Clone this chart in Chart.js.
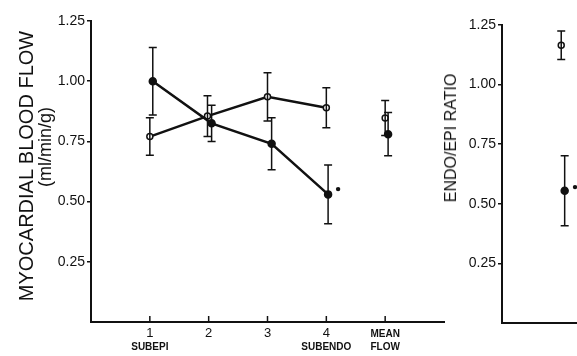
<!DOCTYPE html>
<html lang="en">
<head>
    <meta charset="UTF-8">
    <title>Myocardial Blood Flow and Endo/Epi Ratio</title>
    <script src="https://cdn.jsdelivr.net/npm/chart.js"></script>
    <style>
        body {
            margin: 0;
            width: 577px;
            height: 356px;
            overflow: hidden;
            background: #fff;
            position: relative;
            font-family: "Liberation Sans", Arial, sans-serif;
            color: #111;
        }
        #flowBox { position: absolute; left: 0; top: 0; width: 460px; height: 356px; }
        #ratioBox { position: absolute; left: 440px; top: 0; width: 240px; height: 356px; }
        .vtitle {
            position: absolute;
            white-space: nowrap;
            transform: translate(-50%, -50%) rotate(-90deg);
            line-height: 1;
        }
    </style>
</head>
<body>
    <div id="flowBox"><canvas id="flowChart" width="460" height="356"></canvas></div>
    <div id="ratioBox"><canvas id="ratioChart" width="240" height="356"></canvas></div>

    <div class="vtitle" style="left:26px; top:166px; font-size:20px;">MYOCARDIAL BLOOD FLOW</div>
    <div class="vtitle" style="left:45px; top:147px; font-size:18px;">(ml/min/g)</div>
    <div class="vtitle" style="left:451px; top:138px; font-size:16px;">ENDO/EPI RATIO</div>

    <script>
        // Tick labels
        const yTicks = [0.25, 0.50, 0.75, 1.00, 1.25];
        const xTicks = [1, 2, 3, 4, 5];
        const xTickLabels = ['1', '2', '3', '4', ''];
        const xSubLabels = [['SUBEPI'], [], [], ['SUBENDO'], ['MEAN', 'FLOW']];

        // Left panel: open circles (control) and filled circles
        const openX = [1, 1.98, 3, 4];
        const openFlow = [0.77, 0.855, 0.935, 0.89];
        const openFlowErr = [0.078, 0.085, 0.10, 0.083];
        const filledX = [1.05, 2.05, 3.07, 4.03];
        const filledFlow = [1.00, 0.825, 0.74, 0.53];
        const filledFlowErr = [0.14, 0.075, 0.108, 0.122];

        // Mean flow
        const openMeanX = [5];
        const openMean = [0.847];
        const openMeanErr = [0.073];
        const filledMeanX = [5.05];
        const filledMean = [0.78];
        const filledMeanErr = [0.09];

        // Significance marks (•)
        const sigFlowX = [4.2];
        const sigFlow = [0.552];

        // Right panel: endo/epi ratio
        const openRatioX = [1.03];
        const openRatio = [1.165];
        const openRatioErr = [0.06];
        const filledRatioX = [1.09];
        const filledRatio = [0.555];
        const filledRatioErr = [0.147];
        const sigRatioX = [1.27];
        const sigRatio = [0.57];

        const INK = '#111';

        function pts(xs, ys) {
            return xs.map((x, i) => ({ x: x, y: ys[i] }));
        }

        // Draws error bars and the small decorations of the axes
        const errorBars = {
            id: 'errorBars',
            afterDatasetsDraw(chart) {
                const ctx = chart.ctx;
                const yScale = chart.scales.y;
                ctx.save();
                ctx.strokeStyle = INK;
                ctx.lineWidth = 1.5;
                chart.data.datasets.forEach((ds, i) => {
                    if (!ds.errors) return;
                    const meta = chart.getDatasetMeta(i);
                    meta.data.forEach((pt, j) => {
                        const v = ds.data[j].y;
                        const e = ds.errors[j];
                        const top = yScale.getPixelForValue(v + e);
                        const bot = yScale.getPixelForValue(v - e);
                        ctx.beginPath();
                        ctx.moveTo(pt.x, top);
                        ctx.lineTo(pt.x, bot);
                        ctx.moveTo(pt.x - 4, top);
                        ctx.lineTo(pt.x + 4, top);
                        ctx.moveTo(pt.x - 4, bot);
                        ctx.lineTo(pt.x + 4, bot);
                        ctx.stroke();
                    });
                });
                ctx.restore();
            }
        };

        const xDecor = {
            id: 'xDecor',
            afterDraw(chart) {
                const ctx = chart.ctx;
                const xScale = chart.scales.x;
                const base = chart.chartArea.bottom;
                ctx.save();
                ctx.strokeStyle = INK;
                ctx.fillStyle = INK;
                ctx.lineWidth = 1.5;
                ctx.textAlign = 'center';
                ctx.textBaseline = 'middle';
                ctx.font = 'bold 10px "Liberation Sans Narrow", "Liberation Sans", sans-serif';
                xTicks.forEach((t, i) => {
                    const px = xScale.getPixelForValue(t);
                    ctx.beginPath();
                    ctx.moveTo(px, base);
                    ctx.lineTo(px, base - 6);
                    ctx.stroke();
                    xSubLabels[i].forEach((s, k) => {
                        const row = xSubLabels[i].length === 2 ? k : 1;
                        ctx.fillText(s, px, base + 12 + row * 13);
                    });
                });
                ctx.restore();
            }
        };

        function yAxis(width) {
            return {
                min: 0,
                max: 1.25,
                afterBuildTicks: s => { s.ticks = yTicks.map(v => ({ value: v })); },
                afterFit: s => { s.width = width; },
                ticks: {
                    color: INK,
                    padding: 2,
                    font: { family: '"Liberation Sans", Arial, sans-serif', size: 14 },
                    callback: v => v.toFixed(2)
                },
                grid: { drawOnChartArea: false, tickLength: 4, color: INK, lineWidth: 1.5 },
                border: { display: true, color: INK, width: 2 }
            };
        }

        const lineStyle = {
            borderColor: INK,
            borderWidth: 2.5,
            pointBorderColor: INK,
            pointBorderWidth: 1.5
        };

        new Chart(document.getElementById('flowChart'), {
            type: 'scatter',
            data: {
                datasets: [
                    Object.assign({ data: pts(filledX, filledFlow), errors: filledFlowErr, showLine: true,
                        pointRadius: 3.5, pointBackgroundColor: INK }, lineStyle),
                    Object.assign({ data: pts(openX, openFlow), errors: openFlowErr, showLine: true,
                        pointRadius: 3, pointBackgroundColor: '#fff' }, lineStyle),
                    Object.assign({ data: pts(filledMeanX, filledMean), errors: filledMeanErr,
                        pointRadius: 3.5, pointBackgroundColor: INK }, lineStyle),
                    Object.assign({ data: pts(openMeanX, openMean), errors: openMeanErr,
                        pointRadius: 3, pointBackgroundColor: '#fff' }, lineStyle),
                    { data: pts(sigFlowX, sigFlow), pointRadius: 2.2, pointBackgroundColor: INK, pointBorderWidth: 0 }
                ]
            },
            options: {
                responsive: false,
                animation: false,
                layout: { padding: { top: 21, right: 16, left: 0, bottom: 0 } },
                plugins: { legend: { display: false }, tooltip: { enabled: false } },
                scales: {
                    x: {
                        type: 'linear',
                        min: 0,
                        max: 6,
                        afterBuildTicks: s => { s.ticks = xTicks.map(v => ({ value: v })); },
                        afterFit: s => { s.height = 34; },
                        ticks: {
                            color: INK,
                            padding: 4,
                            font: { family: '"Liberation Sans", Arial, sans-serif', size: 13 },
                            callback: (v) => xTickLabels[xTicks.indexOf(v)]
                        },
                        grid: { display: false, drawTicks: false },
                        border: { display: true, color: INK, width: 2 }
                    },
                    y: yAxis(91)
                }
            },
            plugins: [errorBars, xDecor]
        });

        new Chart(document.getElementById('ratioChart'), {
            type: 'scatter',
            data: {
                datasets: [
                    Object.assign({ data: pts(openRatioX, openRatio), errors: openRatioErr,
                        pointRadius: 3, pointBackgroundColor: '#fff' }, lineStyle),
                    Object.assign({ data: pts(filledRatioX, filledRatio), errors: filledRatioErr,
                        pointRadius: 3.5, pointBackgroundColor: INK }, lineStyle),
                    { data: pts(sigRatioX, sigRatio), pointRadius: 2.2, pointBackgroundColor: INK, pointBorderWidth: 0 }
                ]
            },
            options: {
                responsive: false,
                animation: false,
                layout: { padding: { top: 25, right: 0, left: 0, bottom: 0 } },
                plugins: { legend: { display: false }, tooltip: { enabled: false } },
                scales: {
                    x: {
                        type: 'linear',
                        min: 0,
                        max: 3,
                        afterFit: s => { s.height = 33; },
                        ticks: { display: false },
                        grid: { display: false, drawTicks: false },
                        border: { display: true, color: INK, width: 2 }
                    },
                    y: yAxis(62)
                }
            },
            plugins: [errorBars]
        });
    </script>
</body>
</html>
